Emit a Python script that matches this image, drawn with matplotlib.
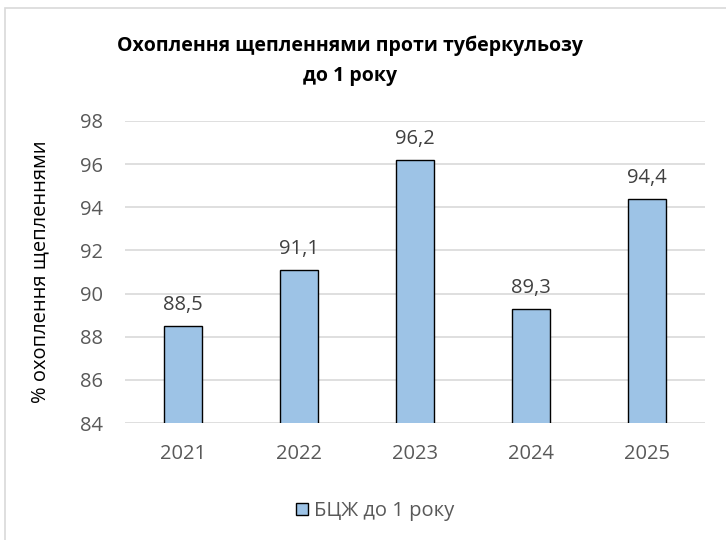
import matplotlib.pyplot as plt
from matplotlib.patches import Rectangle

years = ["2021", "2022", "2023", "2024", "2025"]
coverage = [88.5, 91.1, 96.2, 89.3, 94.4]
y_ticks = [84, 86, 88, 90, 92, 94, 96, 98]
title = "Охоплення щепленнями проти туберкульозу\nдо 1 року"
y_label = "% охоплення щепленнями"
series_name = "БЦЖ до 1 року"

plt.rcParams["font.family"] = ["Open Sans", "DejaVu Sans"]
text_color = "#595959"

fig = plt.figure(figsize=(7.26, 5.4), dpi=100)
# plot area in pixels: x 125..705, y 121..423
ax = fig.add_axes([125 / 726, 1 - 423 / 540, 580 / 726, 302 / 540])

x = range(len(years))
bars = ax.bar(x, coverage, width=0.32, color="#9dc3e6", edgecolor="black",
              linewidth=1.0, label=series_name, zorder=3)
for xi, v in zip(x, coverage):
    ax.text(xi, v + 0.5, f"{v:.1f}".replace(".", ","), ha="center", va="bottom",
            fontsize=14.5, color="#404040")

ax.set_xlim(-0.5, len(years) - 0.5)
ax.set_ylim(84, 98)
ax.set_yticks(y_ticks)
ax.set_xticks(list(x))
ax.set_xticklabels(years)
ax.tick_params(axis="both", length=0, labelsize=14.5, labelcolor=text_color)
ax.tick_params(axis="y", pad=16)
ax.tick_params(axis="x", pad=15)
ax.grid(axis="y", color="#d9d9d9", linewidth=1.2, zorder=0)
for s in ax.spines.values():
    s.set_visible(False)

fig.text(40 / 726, 1 - 272 / 540, y_label, rotation=90, ha="center", va="center",
         fontsize=14.5, color="black")
fig.text(350 / 726, 1 - 61 / 540, title, ha="center", va="center",
         fontsize=14, fontweight="bold", linespacing=1.65, color="black")

fig.legend(handles=[bars], labels=[series_name], loc="center",
           bbox_to_anchor=(375 / 726, 1 - 511 / 540), frameon=False,
           fontsize=14.5, labelcolor=text_color, handlelength=0.6,
           handleheight=0.6, handletextpad=0.3)

fig.patches.append(Rectangle((5 / 726, -0.01), 1, 1 - 8 / 540 + 0.01,
                             transform=fig.transFigure, fill=False,
                             edgecolor="#d9d9d9", linewidth=1.2))

fig.savefig("out.png", dpi=100)
